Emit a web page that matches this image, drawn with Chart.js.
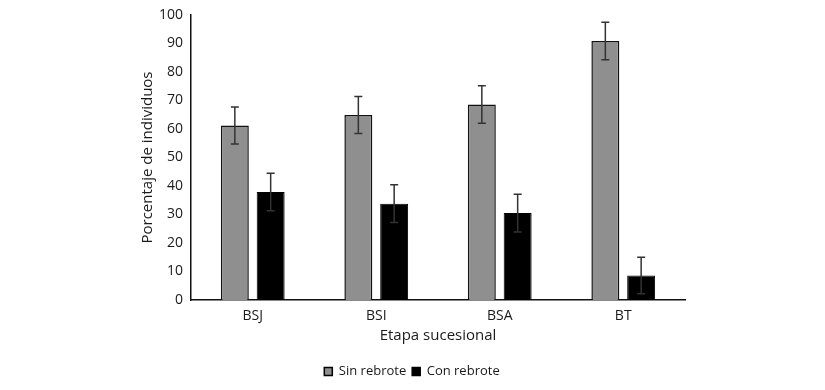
<!DOCTYPE html>
<html>
<head>
<meta charset="utf-8">
<script src="https://cdn.jsdelivr.net/npm/chart.js@4"></script>
<style>
  html, body { margin: 0; padding: 0; background: #fff; }
  #wrap { width: 825px; height: 390px; position: relative; }
</style>
</head>
<body>
<div id="wrap"><canvas id="barChart" width="825" height="390"></canvas></div>
<script>
// data
const etapas = ['BSJ', 'BSI', 'BSA', 'BT'];
const sinRebrote = [61.2, 64.9, 68.6, 90.9];
const conRebrote = [37.9, 33.8, 30.5, 8.6];
const errSin = [6.5, 6.5, 6.6, 6.6];
const errCon = [6.6, 6.6, 6.6, 6.4];
const yTicks = [0, 10, 20, 30, 40, 50, 60, 70, 80, 90, 100];

const textColor = '#1a1a1a';
const font = 'Open Sans';

// draws the error bars on top of each bar
const errorBars = {
    id: 'errorBars',
    afterDatasetsDraw(chart) {
        const ctx = chart.ctx;
        const y = chart.scales.y;
        const errs = [errSin, errCon];
        ctx.save();
        ctx.strokeStyle = '#333';
        ctx.lineWidth = 1.5;
        chart.data.datasets.forEach((ds, i) => {
            const meta = chart.getDatasetMeta(i);
            meta.data.forEach((bar, j) => {
                const v = ds.data[j];
                const top = y.getPixelForValue(v + errs[i][j]);
                const bot = y.getPixelForValue(v - errs[i][j]);
                const x = bar.x;
                ctx.beginPath();
                ctx.moveTo(x, top); ctx.lineTo(x, bot);
                ctx.moveTo(x - 4, top); ctx.lineTo(x + 4, top);
                ctx.moveTo(x - 4, bot); ctx.lineTo(x + 4, bot);
                ctx.stroke();
            });
        });
        ctx.restore();
    }
};

const ctx = document.getElementById('barChart').getContext('2d');
const chart = new Chart(ctx, {
    type: 'bar',
    data: {
        labels: etapas,
        datasets: [{
            label: 'Sin rebrote',
            data: sinRebrote,
            backgroundColor: '#8f8f8f',
            borderColor: '#111',
            borderWidth: 1.5,
            categoryPercentage: 0.58,
            barPercentage: 0.78
        }, {
            label: 'Con rebrote',
            data: conRebrote,
            backgroundColor: '#000',
            borderColor: '#000',
            borderWidth: 1,
            categoryPercentage: 0.58,
            barPercentage: 0.78
        }]
    },
    options: {
        responsive: false,
        animation: false,
        layout: { padding: { left: 139, right: 140, top: 0, bottom: 2 } },
        plugins: {
            tooltip: { enabled: false },
            legend: {
                position: 'bottom',
                labels: {
                    boxWidth: 8,
                    boxHeight: 8,
                    padding: 6,
                    color: textColor,
                    font: { family: font, size: 13 },
                    generateLabels(c) {
                        return c.data.datasets.map((ds, i) => ({
                            text: ds.label,
                            fillStyle: ds.backgroundColor,
                            strokeStyle: '#000',
                            lineWidth: 1.5,
                            fontColor: textColor,
                            datasetIndex: i
                        }));
                    }
                }
            }
        },
        scales: {
            x: {
                afterFit(axis) { axis.height = 59; },
                grid: { display: false, drawTicks: false },
                border: { color: '#111', width: 1.5 },
                ticks: { color: textColor, font: { family: font, size: 14 }, padding: 8 },
                title: {
                    display: true,
                    text: 'Etapa sucesional',
                    color: textColor,
                    font: { family: font, size: 15 },
                    padding: { top: 0, bottom: 14 }
                }
            },
            y: {
                min: 0,
                max: 100,
                afterBuildTicks(axis) {
                    axis.ticks = yTicks.map(v => ({ value: v }));
                },
                afterFit(axis) {
                    axis.width = 52;
                    axis.paddingTop = 15;
                },
                grid: { display: false, drawTicks: false },
                border: { color: '#111', width: 1.5 },
                ticks: { color: textColor, font: { family: font, size: 14 }, padding: 8 },
                title: {
                    display: true,
                    text: 'Porcentaje de individuos',
                    color: textColor,
                    font: { family: font, size: 15 },
                    padding: 0
                }
            }
        }
    },
    plugins: [errorBars]
});
</script>
</body>
</html>
